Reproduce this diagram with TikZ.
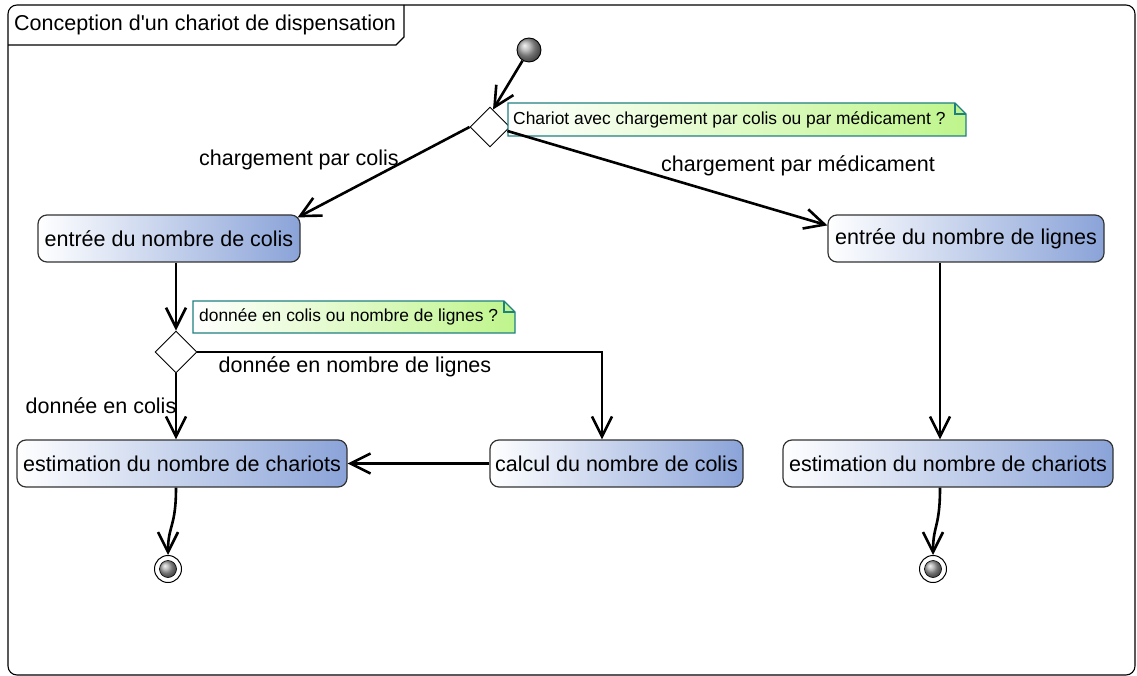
\documentclass[tikz,border=0pt]{standalone}
\usepackage{fontspec}
\setmainfont{Liberation Sans}
\usetikzlibrary{shapes.geometric,arrows.meta,calc,shadings}
\definecolor{boxblue}{HTML}{8AA3D8}
\definecolor{notegreen}{HTML}{BFF58C}
\definecolor{noteborder}{HTML}{1F8080}
\definecolor{edgegray}{HTML}{333333}
\tikzset{
  actbox/.style={draw=edgegray, line width=1.2pt, rounded corners=9pt, left color=white, right color=boxblue, minimum height=47pt, inner xsep=2pt, font=\fontsize{21.5}{24}\selectfont},
  decision/.style={diamond, draw=black, line width=0.9pt, fill=white, minimum size=40pt, inner sep=0pt},
  notetext/.style={inner sep=0pt, font=\fontsize{17.4}{20}\selectfont, anchor=west},
  notebox/.style={draw=noteborder, line width=1.1pt, left color=white, right color=notegreen},
  flow/.style={line width=2.6pt, -{Straight Barb[length=20pt,width=20pt,line width=2.6pt]}},
  lbl/.style={font=\fontsize{21.5}{24}\selectfont, inner sep=0pt},
  startnode/.style={circle, draw=black, line width=0.9pt, ball color=gray!70, minimum size=24pt, inner sep=0pt},
  endouter/.style={circle, draw=black, line width=1pt, fill=white, minimum size=27pt, inner sep=0pt},
  endinner/.style={circle, draw=black, line width=0.6pt, ball color=gray!70, minimum size=17pt, inner sep=0pt}
}
\begin{document}
\begin{tikzpicture}[x=1pt,y=-1pt]
\useasboundingbox (0,0) rectangle (1137,676);
% frame
\draw[line width=1.1pt, rounded corners=9pt] (8,5) rectangle (1135,675);
\draw[line width=1.1pt] (8,45) -- (396,45) -- (404,37) -- (404,5);
\node[lbl, anchor=west] (title) at (14,25) {Conception d\textquotesingle un chariot de dispensation};

% nodes
\node[startnode] (init) at (529,50) {};
\node[decision, minimum size=40pt] (d1) at (490,127) {};
\node[actbox, minimum width=262pt] (colis) at (169,238.5) {entrée du nombre de colis};
\node[actbox, minimum width=276pt] (lignes) at (966,238.5) {entrée du nombre de lignes};
\node[decision, minimum size=42pt] (d2) at (176,352) {};
\node[actbox, minimum width=330pt] (est1) at (182,463.5) {estimation du nombre de chariots};
\node[actbox, minimum width=253pt] (calcul) at (616.5,463.5) {calcul du nombre de colis};
\node[actbox, minimum width=330pt] (est2) at (948,463.5) {estimation du nombre de chariots};
\node[endouter] (fin1) at (168,569) {};
\node[endinner] (fin1in) at (fin1) {};
\node[endouter] (fin2) at (933,569) {};
\node[endinner] (fin2in) at (fin2) {};

% notes
\coordinate (n1nw) at (508,103);
\coordinate (n1se) at (966,136);
\path[notebox] (n1nw) -- ($(n1nw -| n1se)+(-11,0)$) -- ($(n1nw -| n1se)+(0,11)$) -- (n1se) -- (n1nw |- n1se) -- cycle;
\draw[noteborder, line width=1.1pt] ($(n1nw -| n1se)+(-11,0)$) -- ($(n1nw -| n1se)+(-11,11)$) -- ($(n1nw -| n1se)+(0,11)$);
\node[notetext] (note1) at (513,119.5) {Chariot avec chargement par colis ou par médicament ?};

\coordinate (n2nw) at (193,301);
\coordinate (n2se) at (515,333);
\path[notebox] (n2nw) -- ($(n2nw -| n2se)+(-11,0)$) -- ($(n2nw -| n2se)+(0,11)$) -- (n2se) -- (n2nw |- n2se) -- cycle;
\draw[noteborder, line width=1.1pt] ($(n2nw -| n2se)+(-11,0)$) -- ($(n2nw -| n2se)+(-11,11)$) -- ($(n2nw -| n2se)+(0,11)$);
\node[notetext] (note2) at (199,317) {donnée en colis ou nombre de lignes ?};

% connectors
\draw[flow] (init) -- ($(d1.north)+(3,3)$);
\draw[flow] (d1.west) -- ($(colis.north east)+(-3,3)$);
\draw[flow] ($(d1.east)+(-3,4)$) -- ($(lignes.north west)+(0,11)$);
\draw[flow] (colis.south -| d2.north) -- (d2.north);
\coordinate (cx) at (602,0);
\draw[flow] (d2.east) -- (d2.east -| cx) -- (calcul.north -| cx);
\draw[flow] (d2.south) -- (d2.south |- est1.north);
\draw[flow] (calcul.west) -- (est1.east);
\coordinate (lx) at (940,0);
\draw[flow] (lignes.south -| lx) -- (est2.north -| lx);
\coordinate (e1x) at (176,0);
\draw[flow] (est1.south -| e1x) .. controls ($(est1.south -| e1x)+(0,40)$) and ($(fin1.north)+(0,-30)$) .. (fin1.north);
\draw[flow] (est2.south -| lx) .. controls ($(est2.south -| lx)+(0,40)$) and ($(fin2.north)+(0,-30)$) .. (fin2.north);

% labels
\node[lbl] (l1) at (299,160) {chargement par colis};
\node[lbl] (l2) at (798,166) {chargement par médicament};
\node[lbl] (l3) at (355,367) {donnée en nombre de lignes};
\node[lbl] (l4) at (101,406) {donnée en colis};
\end{tikzpicture}
\end{document}
